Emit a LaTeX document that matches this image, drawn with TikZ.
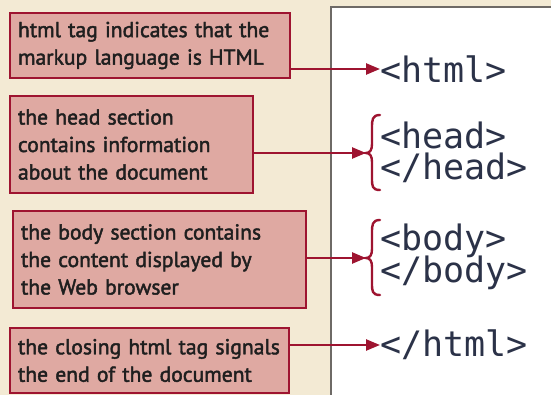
\documentclass[tikz,border=0pt]{standalone}
\usepackage{fontspec}
\setmainfont{PT Sans}
\newfontfamily\labelfont{PT Sans}[FakeBold=2]
\newfontfamily\codefont{DejaVu Sans Mono}
\usetikzlibrary{arrows.meta}
\definecolor{bgbeige}{HTML}{F3EAD4}
\definecolor{boxfill}{HTML}{DFA9A2}
\definecolor{boxline}{HTML}{9E1430}
\definecolor{codecol}{HTML}{2B3248}
\definecolor{panelline}{HTML}{6E6A66}
\hyphenpenalty=10000
\exhyphenpenalty=10000
\begin{document}
\begin{tikzpicture}[x=1pt,y=-1pt,
  note/.style={draw=boxline,line width=2.6pt,fill=boxfill,align=left,anchor=center,
    inner xsep=8pt,inner ysep=0pt,
    font=\labelfont\fontsize{21.6}{27.5}\selectfont,
    text=black!88},
  code/.style={anchor=west,inner sep=0pt,font=\codefont\fontsize{35}{36}\selectfont,text=codecol},
  arr/.style={draw=boxline,line width=2.4pt,-{Triangle[length=14pt,width=11pt]}},
  brc/.style={draw=boxline,line width=2.4pt,line cap=round}]
\useasboundingbox (0,0) rectangle (551,395);
\fill[bgbeige] (0,0) rectangle (551,395);
\fill[white] (331,7) rectangle (551,395);
\draw[panelline,line width=1.5pt] (331,395) -- (331,7) -- (551,7);
% notes
\node[note,text width=264pt,minimum height=65pt] (n1) at (150,45.5)
  {\mbox{html tag indicates that the}\\\mbox{markup language is HTML}};
\node[note,text width=227pt,minimum height=97pt] (n2) at (131.5,144.5)
  {\mbox{the head section}\\\mbox{contains information}\\\mbox{about the document}};
\node[note,text width=277pt,minimum height=97pt] (n3) at (159.5,259.5)
  {\mbox{the body section contains}\\\mbox{the content displayed by}\\\mbox{the Web browser}};
\node[note,text width=263pt,minimum height=65pt] (n4) at (149.5,360.5)
  {\mbox{the closing html tag signals}\\\mbox{the end of the document}};
% code
\node[code] (c1) at (380,69) {<html>};
\node[code] (c2) at (380,135) {<head>};
\node[code] (c3) at (380,168) {</head>};
\node[code] (c4) at (380,241) {<body>};
\node[code] (c5) at (380,273) {</body>};
\node[code] (c6) at (380,345) {</html>};
% braces
\coordinate (b2) at (366,153);
\coordinate (b3) at (366,258);
\draw[brc] (380,115) .. controls (372,115) and (372,120) .. (372,128) -- (372,144)
  .. controls (372,150) and (370,153) .. (b2)
  .. controls (370,153) and (372,156) .. (372,162) -- (372,178)
  .. controls (372,186) and (372,190) .. (380,190);
\draw[brc] (380,220) .. controls (372,220) and (372,225) .. (372,233) -- (372,249)
  .. controls (372,255) and (370,258) .. (b3)
  .. controls (370,258) and (372,261) .. (372,267) -- (372,283)
  .. controls (372,291) and (372,295) .. (380,295);
% arrows
\draw[arr] (n1.east |- c1.west) -- (c1.west);
\draw[arr] (n2.east |- b2) -- (b2);
\draw[arr] (n3.east |- b3) -- (b3);
\draw[arr] (n4.east |- c6.west) -- (c6.west);
\end{tikzpicture}
\end{document}
